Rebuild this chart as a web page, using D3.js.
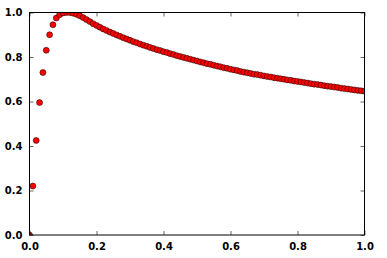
<!DOCTYPE html>
<html>
<head>
<meta charset="utf-8">
<script src="https://cdn.jsdelivr.net/npm/d3@7"></script>
<style>
html,body{margin:0;padding:0;background:#fff;}
svg{display:block;}
text{font-family:"DejaVu Sans",sans-serif;font-weight:bold;font-size:10px;fill:#000;}
</style>
</head>
<body>
<script>
const xValues = [0.00,0.01,0.02,0.03,0.04,0.05,0.06,0.07,0.08,0.09,
0.10,0.11,0.12,0.13,0.14,0.15,0.16,0.17,0.18,0.19,
0.20,0.21,0.22,0.23,0.24,0.25,0.26,0.27,0.28,0.29,
0.30,0.31,0.32,0.33,0.34,0.35,0.36,0.37,0.38,0.39,
0.40,0.41,0.42,0.43,0.44,0.45,0.46,0.47,0.48,0.49,
0.50,0.51,0.52,0.53,0.54,0.55,0.56,0.57,0.58,0.59,
0.60,0.61,0.62,0.63,0.64,0.65,0.66,0.67,0.68,0.69,
0.70,0.71,0.72,0.73,0.74,0.75,0.76,0.77,0.78,0.79,
0.80,0.81,0.82,0.83,0.84,0.85,0.86,0.87,0.88,0.89,
0.90,0.91,0.92,0.93,0.94,0.95,0.96,0.97,0.98,0.99,1.00];
const yValues = [0.000,0.220,0.425,0.595,0.730,0.830,0.900,0.945,0.975,0.990,
0.998,1.000,1.000,0.997,0.992,0.985,0.977,0.968,0.959,0.950,
0.942,0.934,0.926,0.919,0.912,0.906,0.899,0.893,0.887,0.881,
0.875,0.869,0.864,0.858,0.853,0.848,0.843,0.838,0.833,0.829,
0.824,0.820,0.815,0.811,0.806,0.802,0.798,0.794,0.790,0.786,
0.782,0.778,0.774,0.770,0.767,0.763,0.759,0.756,0.752,0.749,
0.745,0.742,0.739,0.735,0.732,0.729,0.726,0.723,0.721,0.718,
0.715,0.712,0.710,0.707,0.705,0.702,0.700,0.697,0.695,0.692,
0.690,0.688,0.685,0.683,0.680,0.678,0.676,0.674,0.671,0.669,
0.667,0.665,0.663,0.660,0.658,0.656,0.654,0.652,0.650,0.648,0.646];
const xTicks = [0.0,0.2,0.4,0.6,0.8,1.0];
const yTicks = [0.0,0.2,0.4,0.6,0.8,1.0];

const W = 387, H = 258;
const pL = 29.5, pR = 364.5, pT = 12.5, pB = 235;

const svg = d3.select("body").append("svg").attr("width", W).attr("height", H);
const x = d3.scaleLinear().domain([0,1]).range([pL, pR]);
const y = d3.scaleLinear().domain([0,1]).range([pB, pT]);

svg.append("defs").append("clipPath").attr("id","clip")
  .append("rect").attr("x", pL).attr("y", pT).attr("width", pR-pL).attr("height", pB-pT);

const pts = xValues.map((v,i)=>({x:v,y:yValues[i]}));
svg.append("g").attr("clip-path","url(#clip)")
  .selectAll("circle").data(pts).enter().append("circle")
  .attr("cx", d=>x(d.x)).attr("cy", d=>y(d.y)).attr("r", 3)
  .attr("fill", "#ff0000").attr("stroke", "#000").attr("stroke-width", 0.5);

const fmt = d3.format(".1f");
const gB = svg.append("g").attr("transform", `translate(0,${pB})`)
  .call(d3.axisBottom(x).tickValues(xTicks).tickFormat(fmt).tickSizeInner(-4).tickSizeOuter(0).tickPadding(8));
const gT = svg.append("g").attr("transform", `translate(0,${pT})`)
  .call(d3.axisTop(x).tickValues(xTicks).tickFormat("").tickSizeInner(-4).tickSizeOuter(0));
const gL = svg.append("g").attr("transform", `translate(${pL},0)`)
  .call(d3.axisLeft(y).tickValues(yTicks).tickFormat(fmt).tickSizeInner(-4).tickSizeOuter(0).tickPadding(7));
const gR = svg.append("g").attr("transform", `translate(${pR},0)`)
  .call(d3.axisRight(y).tickValues(yTicks).tickFormat("").tickSizeInner(-4).tickSizeOuter(0));
[gB,gT,gL,gR].forEach(g=>{
  g.select(".domain").remove();
  g.selectAll(".tick line").attr("stroke","#000").attr("stroke-width",0.6);
  g.selectAll("text").attr("font-family","DejaVu Sans").attr("font-weight","bold").attr("font-size",10).attr("fill","#000");
});
svg.append("rect").attr("x", pL).attr("y", pT).attr("width", pR-pL).attr("height", pB-pT)
  .attr("fill","none").attr("stroke","#000").attr("stroke-width",1);
</script>
</body>
</html>
